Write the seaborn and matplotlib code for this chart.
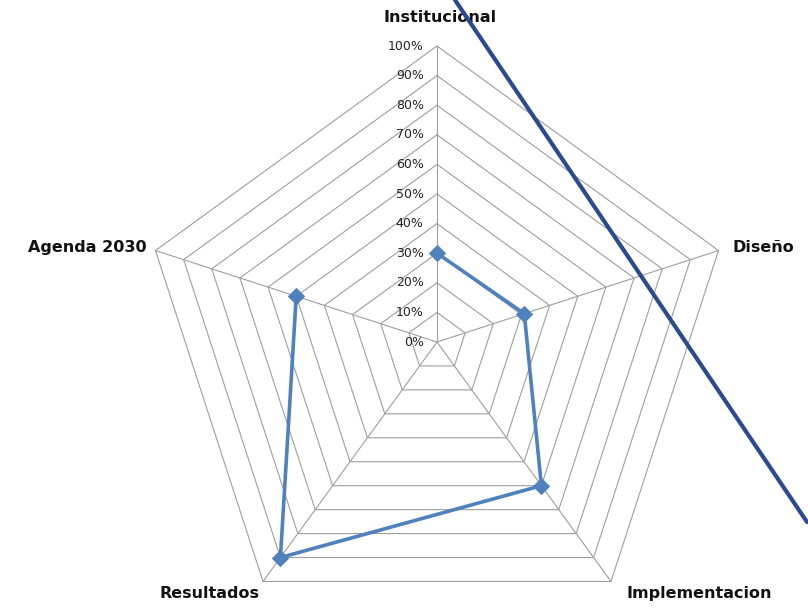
import numpy as np
import pandas as pd
import matplotlib.pyplot as plt
import seaborn as sns
from matplotlib.lines import Line2D

# Datos del gráfico radar
categorias = ["Institucional", "Diseño", "Implementacion", "Resultados", "Agenda 2030"]
valores = [0.30, 0.31, 0.60, 0.90, 0.50]
niveles = [0.0, 0.1, 0.2, 0.3, 0.4, 0.5, 0.6, 0.7, 0.8, 0.9, 1.0]
etiquetas_niveles = ["0%", "10%", "20%", "30%", "40%", "50%", "60%", "70%", "80%", "90%", "100%"]

sns.set_style("white")
plt.rcParams["font.family"] = ["DejaVu Sans"]

W, H = 808, 613
cx, cy, R = 437, 342, 296

fig = plt.figure(figsize=(W / 100, H / 100), dpi=100)
ax = fig.add_axes([0, 0, 1, 1])
ax.set_xlim(-cx / R, (W - cx) / R)
ax.set_ylim(-(H - cy) / R, cy / R)
ax.axis("off")

angulos = np.deg2rad(90 - 72 * np.arange(len(categorias)))
cosa, sina = np.cos(angulos), np.sin(angulos)

# rejilla poligonal
gris = "#9e9e9e"
for n in niveles[1:]:
    ax.plot(np.append(cosa, cosa[0]) * n, np.append(sina, sina[0]) * n,
            color=gris, lw=0.8, zorder=1)
for c, s in zip(cosa, sina):
    ax.plot([0, c], [0, s], color=gris, lw=0.8, zorder=1)

# etiquetas de niveles
for n, t in zip(niveles, etiquetas_niveles):
    ax.text(-0.045, n, t, ha="right", va="center", fontsize=9, color="#222222")

# etiquetas de categorías
pos = [(0.01, 1.095, "center", "center"),
       (1.0, 0.32, "left", "center"),
       (0.885, -0.85, "center", "center"),
       (-0.77, -0.85, "center", "center"),
       (-0.98, 0.32, "right", "center")]
for cat, (x, y, ha, va) in zip(categorias, pos):
    ax.text(x, y, cat, ha=ha, va=va, fontsize=11.5, fontweight="bold", color="#111111")

# serie de datos
df = pd.DataFrame({"x": list(np.array(valores) * cosa) + [valores[0] * cosa[0]],
                   "y": list(np.array(valores) * sina) + [valores[0] * sina[0]]})
sns.lineplot(data=df, x="x", y="y", sort=False, color="#4f81bd", lw=2.6,
             marker="D", markersize=8, markeredgecolor="#4f81bd", ax=ax, zorder=3)

# línea diagonal superpuesta
fig.add_artist(Line2D([455 / W, 807 / W], [1, 1 - 522 / H], color="#2b4a8f",
                      lw=3, transform=fig.transFigure, zorder=5))

fig.savefig("out.png", dpi=100)
